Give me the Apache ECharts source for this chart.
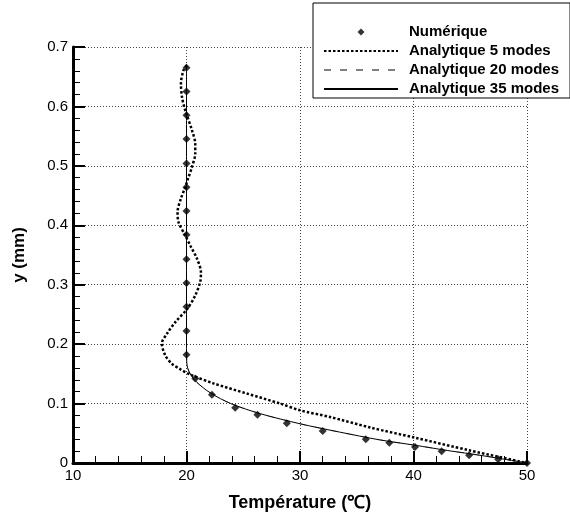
<!DOCTYPE html>
<html>
<head>
<meta charset="utf-8">
<script src="https://cdn.jsdelivr.net/npm/echarts@6/dist/echarts.min.js"></script>
<style>
  html, body { margin: 0; padding: 0; background: #fff; }
  #chart { width: 570px; height: 515px; }
</style>
</head>
<body>
<div id="chart"></div>
<script>
// values: temperature (°C) and height y (mm)
const numeriqueT = [20.0, 20.0, 20.0, 20.0, 20.0, 20.0, 20.0, 20.0, 20.0, 20.0, 20.0, 20.0, 20.0,
  20.77, 22.24, 24.29, 26.25, 28.84, 32.0, 35.8, 37.87, 40.13, 42.48, 44.9, 47.46, 50.0];
const numeriqueY = [0.665, 0.625, 0.585, 0.545, 0.504, 0.464, 0.424, 0.384, 0.343, 0.303, 0.263, 0.222, 0.182,
  0.142, 0.115, 0.093, 0.081, 0.067, 0.054, 0.040, 0.034, 0.027, 0.0197, 0.013, 0.0062, 0.0];

const modes5T = [20.04, 19.74, 19.51, 19.60, 19.80, 20.09, 20.48, 20.77, 20.77, 20.48, 20.09, 19.89, 19.51,
  19.21, 19.30, 19.89, 20.33, 20.92, 21.27, 21.21, 20.77, 20.09, 19.01, 18.3, 17.83, 18.13, 18.71, 19.44,
  20.3, 22.38, 25.3, 28.25, 30.0, 32.65, 36.2, 40.1, 44.9, 50.0];
const modes5Y = [0.669, 0.661, 0.638, 0.616, 0.599, 0.582, 0.560, 0.537, 0.521, 0.498, 0.476, 0.464, 0.445,
  0.422, 0.405, 0.383, 0.366, 0.344, 0.321, 0.305, 0.282, 0.260, 0.237, 0.218, 0.201, 0.181, 0.167, 0.158,
  0.149, 0.134, 0.117, 0.100, 0.0887, 0.0774, 0.0596, 0.0427, 0.0214, 0.0];

const modes20T = [20.0, 20.0, 20.0, 20.0, 20.02, 20.1, 20.33, 20.9, 22.1, 23.9, 26.5, 30.0, 33.5, 37.0, 40.1, 43.0, 45.0, 47.5, 50.0];
const modes20Y = [0.670, 0.500, 0.300, 0.200, 0.170, 0.160, 0.150, 0.136, 0.118, 0.100, 0.083, 0.066, 0.052, 0.039, 0.030, 0.021, 0.0155, 0.008, 0.0];

const modes35T = [20.0, 20.0, 20.0, 20.0, 20.02, 20.1, 20.33, 20.9, 22.1, 23.9, 26.5, 30.0, 33.5, 37.0, 40.1, 43.0, 45.0, 47.5, 50.0];
const modes35Y = [0.670, 0.500, 0.300, 0.200, 0.170, 0.160, 0.150, 0.136, 0.118, 0.100, 0.083, 0.066, 0.052, 0.039, 0.030, 0.021, 0.0155, 0.008, 0.0];

const seriesNames = ['Numérique', 'Analytique 5 modes', 'Analytique 20 modes', 'Analytique 35 modes'];

const xTicks = {min: 10, max: 50, interval: 10};
const yTicks = {min: 0, max: 0.7, interval: 0.1};

const zip = (xs, ys) => xs.map((x, i) => [x, ys[i]]);

const font = '"Liberation Sans", Arial, sans-serif';
const diamondIcon = 'path://M5,0 L10,5 L5,10 L0,5 Z';

const axisCommon = {
    type: 'value',
    axisLine: {show: true, onZero: false, lineStyle: {color: '#000', width: 3}},
    axisTick: {show: true, inside: true, length: 12, lineStyle: {color: '#000', width: 2}},
    minorTick: {show: true, splitNumber: 5, length: 7, lineStyle: {color: '#000', width: 1}},
    splitLine: {show: true, lineStyle: {color: '#444', width: 1, type: [1, 2]}},
    axisLabel: {color: '#000', fontSize: 15, fontFamily: font, margin: 5},
    nameLocation: 'middle',
    nameTextStyle: {color: '#000', fontSize: 17, fontWeight: 'bold', fontFamily: font}
};

const chart = echarts.init(document.getElementById('chart'));
chart.setOption({
    animation: false,
    backgroundColor: '#fff',
    grid: {left: 73, right: 43, top: 47, bottom: 52, outerBoundsMode: 'none', containLabel: false},
    xAxis: Object.assign({}, axisCommon, {
        min: xTicks.min, max: xTicks.max, interval: xTicks.interval,
        name: 'Température (℃)', nameGap: 31,
        nameTextStyle: {color: '#000', fontSize: 18, fontWeight: 'bold', fontFamily: font}
    }),
    yAxis: Object.assign({}, axisCommon, {
        min: yTicks.min, max: yTicks.max, interval: yTicks.interval,
        name: 'y (mm)', nameGap: 45
    }),
    legend: {
        orient: 'vertical',
        left: 313,
        top: 3,
        padding: [20, 11, 0, 10],
        itemWidth: 74,
        itemHeight: 7,
        itemGap: 1,
        symbolKeepAspect: true,
        backgroundColor: '#fff',
        borderColor: '#000',
        borderWidth: 1,
        borderRadius: 0,
        textStyle: {color: '#000', fontSize: 15, fontWeight: 'bold', fontFamily: font, lineHeight: 18, padding: [0, 0, 0, 6]},
        data: [
            {name: seriesNames[0], icon: diamondIcon},
            {name: seriesNames[1], itemStyle: {opacity: 0}},
            {name: seriesNames[2], itemStyle: {opacity: 0}},
            {name: seriesNames[3], itemStyle: {opacity: 0}}
        ]
    },
    series: [
        {
            name: seriesNames[2],
            type: 'line',
            data: zip(modes20T, modes20Y),
            smooth: 0.3,
            showSymbol: false,
            symbol: 'none',
            lineStyle: {color: '#808080', width: 1, type: [7, 9]},
            itemStyle: {color: '#808080'},
            z: 2
        },
        {
            name: seriesNames[1],
            type: 'line',
            data: zip(modes5T, modes5Y),
            smooth: 0.3,
            showSymbol: false,
            symbol: 'none',
            lineStyle: {color: '#000', width: 2.5, type: [2.5, 2]},
            itemStyle: {color: '#000'},
            z: 3
        },
        {
            name: seriesNames[3],
            type: 'line',
            data: zip(modes35T, modes35Y),
            smooth: 0.3,
            showSymbol: false,
            symbol: 'none',
            lineStyle: {color: '#000', width: 1},
            itemStyle: {color: '#000'},
            z: 4
        },
        {
            name: seriesNames[0],
            type: 'scatter',
            data: zip(numeriqueT, numeriqueY),
            symbol: diamondIcon,
            symbolSize: 8,
            symbolKeepAspect: true,
            itemStyle: {color: '#000'},
            z: 5
        }
    ]
});
</script>
</body>
</html>
